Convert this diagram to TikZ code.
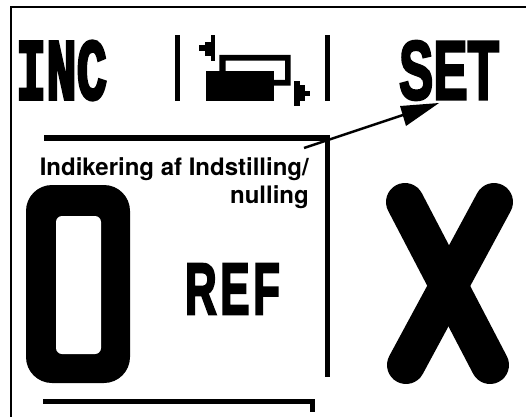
\documentclass[tikz,border=0pt]{standalone}
\usepackage{fontspec}
\usepackage{graphicx}
\setmainfont{TeX Gyre Heros}
\newfontfamily\slabfont[FakeBold=4]{Liberation Mono}
\newfontfamily\heavyfont[FakeBold=3.5]{Liberation Sans}
\newfontfamily\plainheavy[FakeBold=1.5]{Liberation Sans}
\newcommand{\fitbox}[3]{\resizebox{#1pt}{#2pt}{#3}}
\tikzset{
  glyph/.style={inner sep=0pt,outer sep=0pt,text=black},
  rule/.style={fill=black,draw=none},
  caption/.style={inner sep=0pt,anchor=base east,font=\bfseries\fontsize{24}{25}\selectfont}
}
\begin{document}
\begin{tikzpicture}[x=1pt,y=-1pt]
\useasboundingbox (0,0) rectangle (526,417);
% outer frame
\fill[rule] (10,6.5) rectangle (526,8);
\fill[rule] (10,6.5) rectangle (12,417);
% soft keys
\node[glyph] (inc) at (61.5,70.5) {\fitbox{91}{58}{\slabfont\bfseries INC}};
\node[glyph] (set) at (449,70.5) {\fitbox{100}{58}{\heavyfont\bfseries SET}};
\fill[rule] (175,35) rectangle (179.5,100.5);
\fill[rule] (325,35) rectangle (329.5,100.5);
% icon
\fill[rule] (210.7,35) rectangle (215,61);
\fill[rule] (205,42) rectangle (211,56);
\fill[rule] (199,45) rectangle (206,51);
\fill[rule] (205.7,70.7) rectangle (274.3,101);
\fill[rule,even odd rule] (219.3,55) -- (290.7,55) -- (290.7,85.7) -- (274,85.7) -- (274,80) -- (285,80) -- (285,60.7) -- (225.7,60.7) -- (225.7,71) -- (219.3,71) -- cycle;
\fill[rule] (294.3,81) rectangle (300.3,105.7);
\fill[rule] (300,85) rectangle (305,101);
\fill[rule] (305,90.7) rectangle (310,95.7);
% display frame
\fill[rule] (44,135) rectangle (330,140.5);
\fill[rule] (325,135) rectangle (330,377);
\fill[rule] (43,399) rectangle (314,404);
\fill[rule] (310,399) rectangle (314.5,412);
% caption
\node[caption] (cap1) at (309,175) {Indikering af Indstilling/};
\node[caption] (cap2) at (309,203) {nulling};
% big zero: rounded body behind the glyph, counter on top
\fill[black,rounded corners=26pt] (26,185) rectangle (130,383);
\node[glyph] (zero) at (78,284) {\fitbox{90}{180}{\plainheavy\bfseries 0}};
\fill[white,rounded corners=6pt] (56,216) rectangle (101,354);
% REF
\node[glyph] (ref) at (232.5,289) {\fitbox{95}{50}{\heavyfont\bfseries R\kern0.08em E\kern0.08em F}};
% big X: rounded strokes behind the glyph
\draw[line width=38pt,line cap=round] (405,202) -- (490,365);
\draw[line width=38pt,line cap=round] (494,202) -- (406,365);
\node[glyph] (xx) at (449,283.5) {\fitbox{85}{120}{\plainheavy\bfseries X}};
% arrow
\coordinate (tail) at (304,148);
\coordinate (tip) at (439,103);
\coordinate (neck) at (403,115);
\draw[line width=2.4pt] (tail) -- (neck);
\fill[black] (tip) -- (400,106) -- (406,126) -- cycle;
\end{tikzpicture}
\end{document}
